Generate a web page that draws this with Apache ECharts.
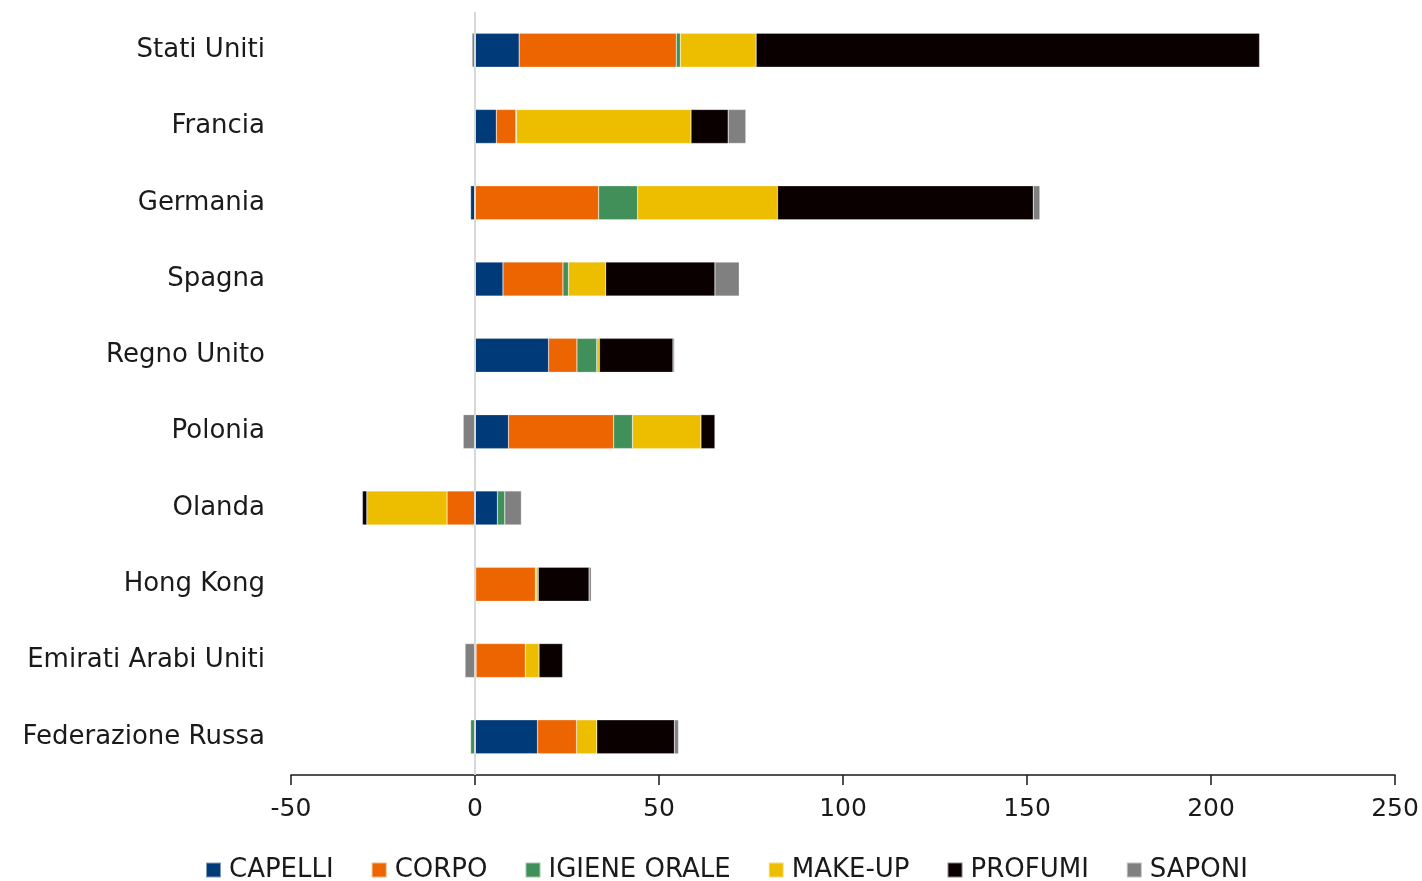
<!DOCTYPE html>
<html>
<head>
<meta charset="utf-8">
<script src="https://cdn.jsdelivr.net/npm/echarts@6/dist/echarts.min.js"></script>
<style>
  html, body { margin: 0; padding: 0; background: #fff; }
  #chart { width: 1422px; height: 881px; }
</style>
</head>
<body>
<div id="chart"></div>
<script>
// Countries, top to bottom
const countries = ['Stati Uniti', 'Francia', 'Germania', 'Spagna', 'Regno Unito', 'Polonia', 'Olanda', 'Hong Kong', 'Emirati Arabi Uniti', 'Federazione Russa'];

// Values per product category
const capelli      = [12.0, 5.8, -1.2, 7.6, 20.0, 9.1, 6.1, 0.2, 0.3, 17.0];
const corpo        = [42.7, 5.3, 33.6, 16.3, 7.7, 28.6, -7.6, 16.2, 13.4, 10.6];
const igieneOrale  = [1.1, 0.2, 10.6, 1.5, 5.4, 5.1, 2.0, 0.2, 0, -1.2];
const makeUp       = [20.6, 47.4, 38.0, 10.1, 0.7, 18.6, -21.8, 0.6, 3.7, 5.5];
const profumi      = [136.8, 10.1, 69.5, 29.7, 20.0, 3.8, -1.2, 13.8, 6.4, 21.1];
const saponi       = [-0.8, 4.8, 1.8, 6.6, 0.4, -3.2, 4.5, 0.6, -2.7, 1.1];

const seriesNames  = ['CAPELLI', 'CORPO', 'IGIENE ORALE', 'MAKE-UP', 'PROFUMI', 'SAPONI'];
const seriesData   = [capelli, corpo, igieneOrale, makeUp, profumi, saponi];
const seriesColors = ['#003A78', '#EC6500', '#41905A', '#EDBE00', '#0B0000', '#808080'];

const FONT = 'DejaVu Sans';

const series = seriesNames.map((name, i) => {
  const s = {
    name: name,
    type: 'bar',
    stack: 'total',
    barWidth: 34,
    data: seriesData[i],
    itemStyle: { color: seriesColors[i], borderColor: 'rgba(255,255,255,0.5)', borderWidth: 0.5 },
    emphasis: { disabled: true }
  };
  if (i === 0) {
    // vertical zero line
    s.markLine = {
      silent: true,
      symbol: 'none',
      label: { show: false },
      lineStyle: { color: '#d9d9d9', width: 2, type: 'solid' },
      data: [{ xAxis: 0 }]
    };
  }
  return s;
});

const chart = echarts.init(document.getElementById('chart'), null, { renderer: 'canvas' });
chart.setOption({
  animation: false,
  backgroundColor: '#ffffff',
  textStyle: { fontFamily: FONT },
  grid: { left: 291, right: 27, top: 12, bottom: 106, containLabel: false },
  legend: {
    bottom: -7,
    left: 200,
    itemWidth: 15,
    itemHeight: 15,
    itemGap: 37,
    icon: 'rect',
    textStyle: { fontFamily: FONT, fontSize: 26, color: '#1a1a1a', padding: [0, 0, 0, 3] },
    data: seriesNames
  },
  xAxis: {
    type: 'value',
    min: -50,
    max: 250,
    interval: 50,
    axisLine: { show: true, onZero: false, lineStyle: { color: '#1a1a1a', width: 1.5 } },
    axisTick: { show: true, length: 10, inside: false, lineStyle: { color: '#1a1a1a', width: 1.5 } },
    axisLabel: { fontFamily: FONT, fontSize: 25, color: '#1a1a1a', margin: 22 },
    splitLine: { show: false }
  },
  yAxis: {
    type: 'category',
    inverse: true,
    data: countries,
    axisLine: { show: false, onZero: false },
    axisTick: { show: false },
    axisLabel: { fontFamily: FONT, fontSize: 26, color: '#1a1a1a', margin: 26, padding: [12, 0, 0, 0] }
  },
  series: series
});
</script>
</body>
</html>
